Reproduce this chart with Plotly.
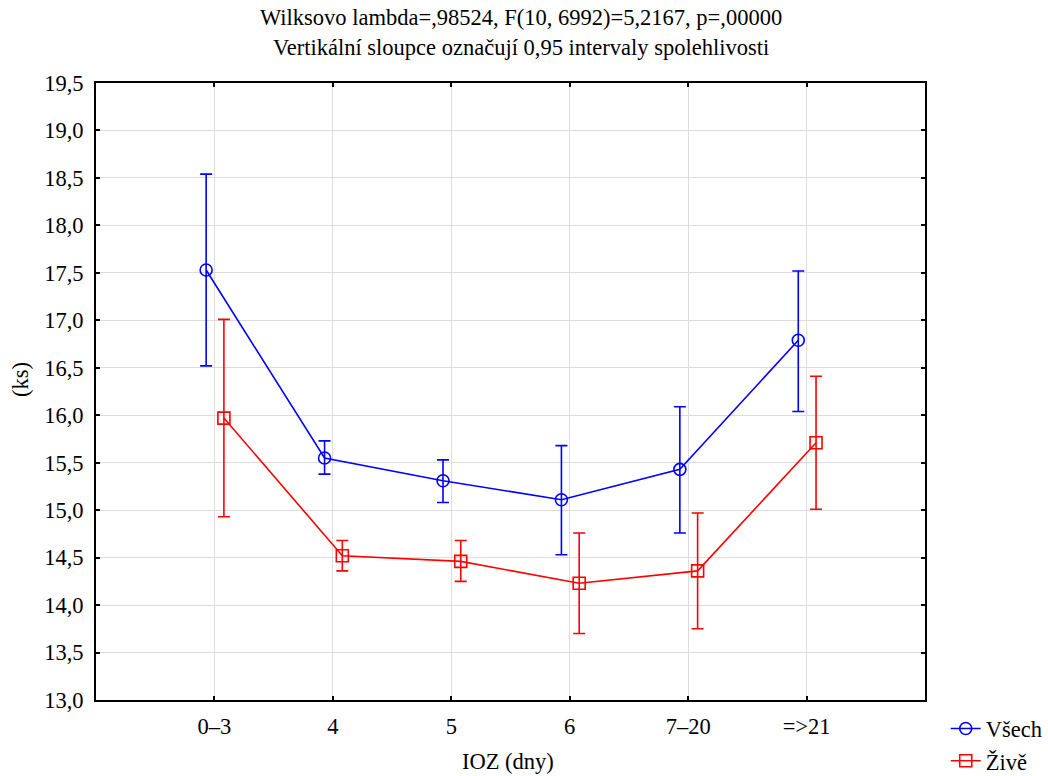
import plotly.graph_objects as go

categories = ["0–3", "4", "5", "6", "7–20", "=>21"]

vsech_mean = [17.53, 15.55, 15.31, 15.11, 15.43, 16.79]
vsech_upper = [18.54, 15.73, 15.53, 15.68, 16.09, 17.52]
vsech_lower = [16.52, 15.38, 15.08, 14.53, 14.76, 16.04]

zive_mean = [15.97, 14.52, 14.46, 14.23, 14.36, 15.71]
zive_upper = [17.01, 14.68, 14.68, 14.76, 14.97, 16.41]
zive_lower = [14.93, 14.36, 14.25, 13.70, 13.75, 15.01]

y_ticks = [13.0, 13.5, 14.0, 14.5, 15.0, 15.5, 16.0, 16.5, 17.0, 17.5, 18.0, 18.5, 19.0, 19.5]

title_lines = ["Wilksovo lambda=,98524, F(10, 6992)=5,2167, p=,00000",
               "Vertikální sloupce označují 0,95 intervaly spolehlivosti"]
x_title = "IOZ (dny)"
y_title = "(ks)"

idx = list(range(len(categories)))
FONT = "Liberation Serif, Times New Roman, DejaVu Serif, serif"
FS = 22.5

def trace(name, mean, up, lo, offset, color, symbol, size):
    return go.Scatter(
        x=[i + offset for i in idx], y=mean, name=name,
        mode="lines+markers",
        line=dict(color=color, width=1.6),
        marker=dict(symbol=symbol, size=size, color=color, line=dict(color=color, width=1.6)),
        error_y=dict(type="data", symmetric=False,
                     array=[u - m for u, m in zip(up, mean)],
                     arrayminus=[m - l for m, l in zip(mean, lo)],
                     color=color, thickness=1.6, width=6),
    )

fig = go.Figure()
fig.add_trace(trace("Všech", vsech_mean, vsech_upper, vsech_lower, -0.07, "#0000ff", "circle-open", 12))
fig.add_trace(trace("Živě", zive_mean, zive_upper, zive_lower, 0.08, "#ff0000", "square-open", 12))

axis_common = dict(showline=True, linecolor="black", linewidth=2, mirror="ticks",
                   ticks="inside", ticklen=4, tickcolor="black", tickwidth=1.5,
                   showgrid=True, gridcolor="#dcdcdc", gridwidth=1, zeroline=False,
                   automargin=False,
                   tickfont=dict(family=FONT, size=FS, color="black"))

fig.update_layout(
    width=1048, height=776,
    margin=dict(l=96, r=123, t=83, b=76, autoexpand=False),
    paper_bgcolor="white", plot_bgcolor="white",
    separators=", ",
    font=dict(family=FONT, size=FS, color="black"),
    xaxis=dict(range=[-1, 6], tickvals=idx, ticktext=categories,
               ticklabelstandoff=5, **axis_common),
    yaxis=dict(range=[13.0, 19.5], tickvals=y_ticks, tickformat=".1f",
               ticklabelstandoff=6, **axis_common),
    showlegend=True,
    legend=dict(x=1.025, xanchor="left", y=-0.012, yanchor="top",
                font=dict(family=FONT, size=FS), bgcolor="rgba(0,0,0,0)",
                tracegroupgap=0, itemwidth=30),
)

fig.add_annotation(text=title_lines[0], xref="paper", yref="paper", x=0.513, y=(700 - 18) / 617,
                   xanchor="center", yanchor="middle", showarrow=False, font=dict(family=FONT, size=FS))
fig.add_annotation(text=title_lines[1], xref="paper", yref="paper", x=0.513, y=(700 - 47) / 617,
                   xanchor="center", yanchor="middle", showarrow=False, font=dict(family=FONT, size=FS))
fig.add_annotation(text=x_title, xref="paper", yref="paper", x=(508 - 96) / 829, y=(700 - 761) / 617,
                   xanchor="center", yanchor="middle", showarrow=False, font=dict(family=FONT, size=FS))
fig.add_annotation(text=y_title, xref="paper", yref="paper", x=(20 - 96) / 829, y=(700 - 380) / 617,
                   xanchor="center", yanchor="middle", textangle=-90, showarrow=False,
                   font=dict(family=FONT, size=FS))

fig.write_html("out.html")
